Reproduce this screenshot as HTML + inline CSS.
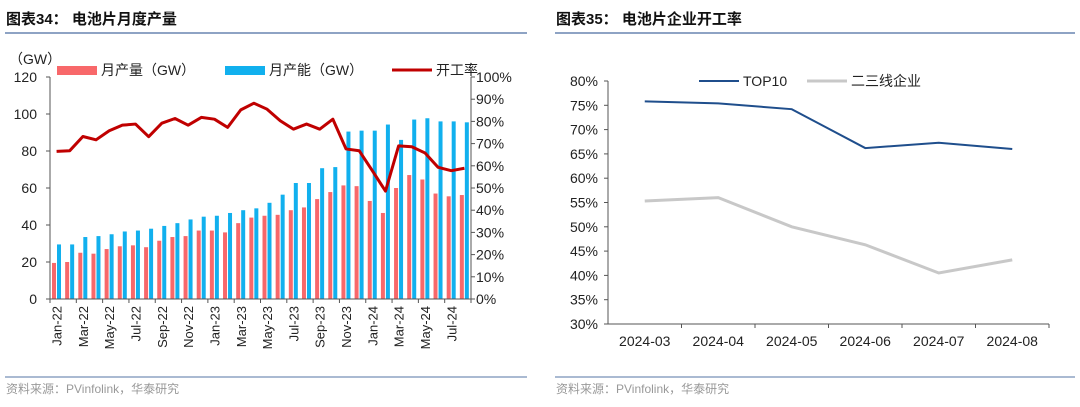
<!DOCTYPE html>
<html><head><meta charset="utf-8"><style>
body{margin:0;background:#fff;width:1080px;height:407px;overflow:hidden;font-family:"Liberation Sans","Noto Sans CJK SC",sans-serif}
svg{display:block}
</style></head><body>
<svg id="s" width="1080" height="407" viewBox="0 0 1080 407">
<g font-family="Liberation Sans, Noto Sans CJK SC, sans-serif">
<text x="6" y="24" font-size="15" font-weight="bold" fill="#111">图表34：  电池片月度产量</text>
<line x1="5" y1="33" x2="527" y2="33" stroke="#8ea3c4" stroke-width="2"/>
<text x="556" y="24" font-size="15" font-weight="bold" fill="#111">图表35：  电池片企业开工率</text>
<line x1="555" y1="33" x2="1075" y2="33" stroke="#8ea3c4" stroke-width="2"/>
<line x1="5" y1="377" x2="527" y2="377" stroke="#8ea3c4" stroke-width="1.5"/>
<line x1="555" y1="377" x2="1075" y2="377" stroke="#8ea3c4" stroke-width="1.5"/>
<text x="6" y="393" font-size="12" fill="#999">资料来源：PVinfolink，华泰研究</text>
<text x="556" y="393" font-size="12" fill="#999">资料来源：PVinfolink，华泰研究</text>
</g>
<g id="left"></g><g id="right"></g>
</svg>
<script>
const months=["Jan-22","Feb-22","Mar-22","Apr-22","May-22","Jun-22","Jul-22","Aug-22","Sep-22","Oct-22","Nov-22","Dec-22","Jan-23","Feb-23","Mar-23","Apr-23","May-23","Jun-23","Jul-23","Aug-23","Sep-23","Oct-23","Nov-23","Dec-23","Jan-24","Feb-24","Mar-24","Apr-24","May-24","Jun-24","Jul-24","Aug-24"];
const production=[19.5,20,25,24.5,27,28.5,29,28,31.5,33.5,34,37,37,36,41,44,45,45.5,48,49.5,54,57.8,61.4,61,53,46.5,60,67,64.6,57,55.5,56.2];
const capacity=[29.5,29.5,33.5,34,35,36.5,37,38,39.5,41,43,44.5,45,46.5,48,49,52,56.4,62.7,62.7,70.7,71.3,90.5,91,91,94.3,86,97,97.7,96,96,95.5];
const utilization=[66.5,66.8,73.2,71.7,75.8,78.3,78.8,73.1,79.2,81.3,78.3,81.8,81,77.3,85.2,88.2,85.5,80.3,76.5,78.8,76.5,81,67.6,66.8,57.8,48.6,69,68.6,65.8,59.3,57.8,58.9];
const leftTicks=[0,20,40,60,80,100,120];
const rightTicks=[0,10,20,30,40,50,60,70,80,90,100];
const periods=["2024-03","2024-04","2024-05","2024-06","2024-07","2024-08"];
const top10=[75.8,75.4,74.2,66.2,67.3,66];
const tier23=[55.3,56,50,46.3,40.5,43.2];
const pctTicks=[30,35,40,45,50,55,60,65,70,75,80];

const NS="http://www.w3.org/2000/svg";
function mk(p,tag,a,txt){const e=document.createElementNS(NS,tag);for(const k in a)e.setAttribute(k,a[k]);if(txt!==undefined)e.textContent=txt;p.appendChild(e);return e;}
const FONT="Liberation Sans, Noto Sans CJK SC, sans-serif";

// LEFT CHART
const L=document.getElementById('left');
const x0=50,x1=471,yb=299,yt=77;
const bw=(x1-x0)/months.length;
const yL=v=>yb-(v/120)*(yb-yt);
const yR=v=>yb-(v/100)*(yb-yt);
const bx=i=>x0+i*bw;
months.forEach((m,i)=>{
  const r=mk(L,'rect',{x:bx(i)+2,y:yL(production[i]),width:4,height:yb-yL(production[i]),fill:'#f8686a'});
  
  
  const b=mk(L,'rect',{x:bx(i)+7,y:yL(capacity[i]),width:4,height:yb-yL(capacity[i]),fill:'#11b0ee'});
  
  
});
const ul=mk(L,'polyline',{points:utilization.map((v,i)=>(bx(i)+bw/2)+','+yR(v)).join(' '),fill:'none',stroke:'#c00000','stroke-width':3,'stroke-linejoin':'round'});


const axl=mk(L,'path',{d:`M${x0},${yt}V${yb}H${x1}V${yt}`,fill:'none',stroke:'#555','stroke-width':1});


leftTicks.forEach(v=>{
  mk(L,'line',{x1:x0-4,x2:x0,y1:yL(v),y2:yL(v),stroke:'#555'});
  const t=mk(L,'text',{x:x0-13,y:yL(v)+5,'font-size':14,'text-anchor':'end',fill:'#222','font-family':FONT},v);
  
  
});
rightTicks.forEach(v=>{
  mk(L,'line',{x1:x1,x2:x1+4,y1:yR(v),y2:yR(v),stroke:'#555'});
  const t=mk(L,'text',{x:x1+5,y:yR(v)+5,'font-size':14,fill:'#222','font-family':FONT},v+'%');
  
  
});
months.forEach((m,i)=>{
  if(i%2===0){
    mk(L,'line',{x1:bx(i),x2:bx(i),y1:yb,y2:yb+4,stroke:'#555'});
    const cx=bx(i)+bw/2+5,cy=yb+7;
    const t=mk(L,'text',{x:cx,y:cy,'font-size':13,'text-anchor':'end',fill:'#222','font-family':FONT,transform:`rotate(-90 ${cx} ${cy})`},m);
    
    
  }
});
mk(L,'line',{x1:x1,x2:x1,y1:yb,y2:yb+4,stroke:'#555'});
let t=mk(L,'text',{x:9,y:64,'font-size':14,fill:'#222','font-family':FONT},'（GW）');


function legend(p,name,sw,x,y,label,lw){
  const g=mk(p,'g',{});
  
  
  if(sw.type==='rect')mk(g,'rect',{x:x,y:y-4,width:40,height:9,fill:sw.c});
  else mk(g,'line',{x1:x,x2:x+40,y1:y,y2:y,stroke:sw.c,'stroke-width':sw.w});
  mk(g,'text',{x:x+44,y:y+5,'font-size':14,fill:'#222','font-family':FONT},label);
}
legend(L,'legend-production',{type:'rect',c:'#f8686a'},57,70,'月产量（GW）');
legend(L,'legend-capacity',{type:'rect',c:'#11b0ee'},225,70,'月产能（GW）');
legend(L,'legend-utilization',{type:'line',c:'#c00000',w:3},392,70,'开工率');

// RIGHT CHART
const R=document.getElementById('right');
const rx0=608,rx1=1049,ryb=324,ryt=81;
const rbw=(rx1-rx0)/periods.length;
const ry=v=>ryb-((v-30)/50)*(ryb-ryt);
const rx=i=>rx0+rbw*(i+0.5);
const axr=mk(R,'path',{d:`M${rx0},${ryt}V${ryb}H${rx1}`,fill:'none',stroke:'#555'});


pctTicks.forEach(v=>{
  mk(R,'line',{x1:rx0-4,x2:rx0,y1:ry(v),y2:ry(v),stroke:'#555'});
  const tt=mk(R,'text',{x:rx0-10,y:ry(v)+5,'font-size':14,'text-anchor':'end',fill:'#222','font-family':FONT},v+'%');
  
  
});
periods.forEach((p,i)=>{
  mk(R,'line',{x1:rx0+rbw*(i+1),x2:rx0+rbw*(i+1),y1:ryb,y2:ryb+4,stroke:'#555'});
  const tt=mk(R,'text',{x:rx(i),y:ryb+22,'font-size':14,'text-anchor':'middle',fill:'#222','font-family':FONT},p);
  
  
});
const l1=mk(R,'polyline',{points:top10.map((v,i)=>rx(i)+','+ry(v)).join(' '),fill:'none',stroke:'#1f4e8c','stroke-width':2});


const l2=mk(R,'polyline',{points:tier23.map((v,i)=>rx(i)+','+ry(v)).join(' '),fill:'none',stroke:'#c8c8c8','stroke-width':3});


legend(R,'legend-top10',{type:'line',c:'#1f4e8c',w:2},699,81,'TOP10');
legend(R,'legend-tier23',{type:'line',c:'#c8c8c8',w:3},807,81,'二三线企业');
</script>
</body></html>
